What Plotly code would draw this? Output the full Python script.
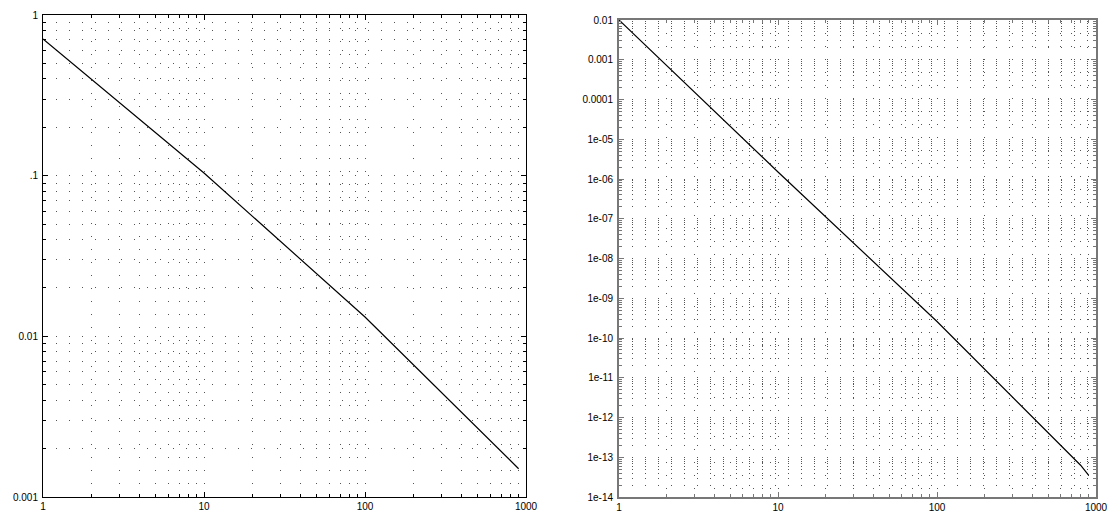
import plotly.graph_objects as go

# Left panel data
left_x = [1, 10, 100, 900]
left_y = [0.71, 0.104, 0.0132, 0.0015]

# Right panel data
right_x = [1, 10, 100, 800, 900]
right_y = [1e-2, 1.5e-6, 2.6e-10, 6.3e-14, 3.5e-14]

x_ticks = [1, 10, 100, 1000]
x_ticktext = ["1", "10", "100", "1000"]
left_yticks = [1, 0.1, 0.01, 0.001]
left_yticktext = ["1", ".1", "0.01", "0.001"]
right_yticks = [10.0 ** (-k) for k in range(2, 15)]
right_yticktext = ["0.01", "0.001", "0.0001"] + ["1e-%02d" % k for k in range(5, 15)]

fig = go.Figure()
fig.add_trace(go.Scatter(x=left_x, y=left_y, mode="lines",
                         line=dict(color="black", width=1.2),
                         xaxis="x", yaxis="y", showlegend=False))
fig.add_trace(go.Scatter(x=right_x, y=right_y, mode="lines",
                         line=dict(color="black", width=1.2),
                         xaxis="x2", yaxis="y2", showlegend=False))

font = dict(family="Liberation Sans, Arial, sans-serif", size=10, color="black")
gridc = "#555555"
dash = "1px,12px"

W, H = 1110, 512


def dx(a, b):
    return [a / W, b / W]


def dy(top, bottom):
    return [(H - bottom) / H, (H - top) / H]


def axis(domain, rng, tickvals, ticktext, anchor, linecolor, linewidth, standoff):
    return dict(
        type="log", domain=domain, range=rng, anchor=anchor, automargin=False,
        tickmode="array", tickvals=tickvals, ticktext=ticktext,
        ticks="inside", ticklen=5, tickcolor=linecolor, tickwidth=1,
        showline=True, linecolor=linecolor, linewidth=linewidth, mirror="ticks",
        showgrid=True, gridcolor=gridc, gridwidth=1, griddash=dash,
        zeroline=False, tickfont=font, ticklabelstandoff=standoff,
        minor=dict(dtick="D1", ticks="inside", ticklen=3, tickcolor=linecolor,
                   showgrid=True, gridcolor=gridc, gridwidth=1, griddash=dash),
    )


fig.update_layout(
    width=W, height=H,
    margin=dict(l=0, r=0, t=0, b=0),
    paper_bgcolor="white", plot_bgcolor="white",
    font=font,
    xaxis=axis(dx(43, 526), [0, 3], x_ticks, x_ticktext, "y", "black", 1, 0),
    yaxis=axis(dy(15, 497), [-3, 0], left_yticks, left_yticktext, "x", "black", 1, 2),
    xaxis2=axis(dx(619, 1096), [0, 3], x_ticks, x_ticktext, "y2", "#777777", 2, 0),
    yaxis2=axis(dy(20, 497), [-14, -2], right_yticks, right_yticktext, "x2", "#777777", 2, 2),
)

fig.write_html(
    "out.html",
    config={"displayModeBar": False},
    post_script="document.body.style.margin='0';document.body.style.overflow='hidden';",
)
